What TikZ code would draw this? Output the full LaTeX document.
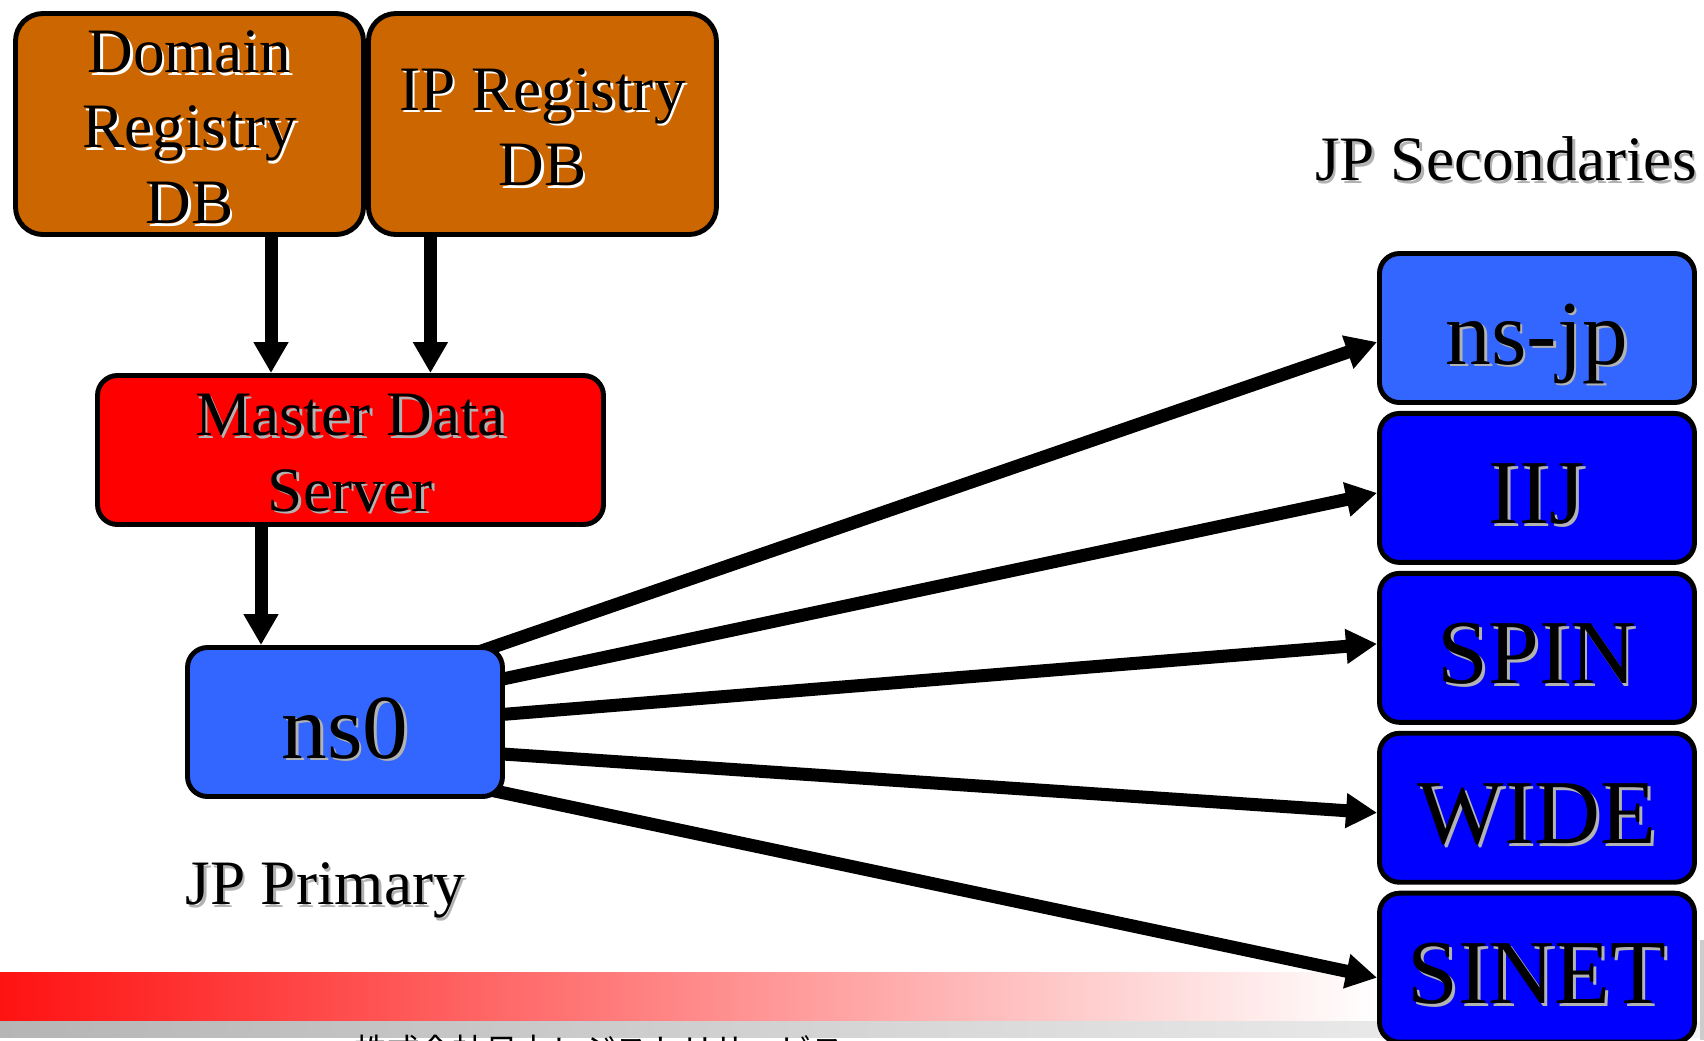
\documentclass[tikz,border=0pt]{standalone}
\usepackage{fontspec}
\setmainfont{Liberation Serif}
\newfontfamily\jpfont{Noto Sans CJK JP}
\usepackage{tikz}
\usetikzlibrary{positioning, arrows.meta, calc, backgrounds}
\definecolor{dbbrown}{RGB}{204,102,0}
\definecolor{nsblue}{RGB}{51,102,255}
\definecolor{secblue}{RGB}{0,0,255}
\definecolor{shadegray}{RGB}{178,178,178}
\newcommand{\shtxt}[2]{\leavevmode\raisebox{-2.5pt}[\height][\depth]{\rlap{\hspace{1.5pt}\raisebox{-1.5pt}{\color{#1}#2}}#2}}
\tikzset{
>={Triangle[length=0.62cm, width=0.66cm]}, % big filled arrow heads
flow/.style={->, line width=0.26cm}, % thick data flow arrows
box/.style={draw, line width=2.8pt, inner sep=0pt, align=center, font=\fontsize{36}{43}\selectfont}, % common look of every box
dbbox/.style={box, fill=dbbrown, rounded corners=0.55cm, minimum width=6.96cm, minimum height=4.42cm}, % registry databases
masterbox/.style={box, fill=red, rounded corners=0.4cm, minimum width=10.12cm, minimum height=2.98cm}, % master server
nsbox/.style={box, fill=nsblue, rounded corners=0.4cm, minimum width=6.3cm, minimum height=2.98cm, font=\fontsize{52}{60}\selectfont, text height=36pt, text depth=0pt}, % name servers
secbox/.style={nsbox, fill=secblue}, % secondaries in plain blue
lbl/.style={inner sep=0pt, font=\fontsize{36}{43}\selectfont}, % free labels
}

\begin{document}
\begin{tikzpicture}
            \useasboundingbox (0,0) rectangle (34.08,-20.8);
            \node[dbbox] (domdb) at (3.79,-2.48) {\shtxt{white}{Domain}\\\shtxt{white}{Registry}\\\shtxt{white}{DB}};
            \node[dbbox, right=0pt of domdb] (ipdb) {\shtxt{white}{IP Registry}\\\shtxt{white}{DB}};
            \node[masterbox] (master) at (7.01,-9) {\shtxt{shadegray}{Master Data}\\\shtxt{shadegray}{Server}};
            \node[nsbox] (ns0) at (6.9,-14.44) {\shtxt{shadegray}{ns0}};
            \node[nsbox] (nsjp) at (30.74,-6.56) {\shtxt{shadegray}{ns-jp}};
            \node[secbox, below=0.12cm of nsjp] (iij) {\shtxt{shadegray}{IIJ}};
            \node[secbox, below=0.12cm of iij] (spin) {\shtxt{shadegray}{SPIN}};
            \node[secbox, below=0.12cm of spin] (wide) {\shtxt{shadegray}{WIDE}};
            \node[secbox, below=0.12cm of wide] (sinet) {\shtxt{shadegray}{SINET}};
            \node[lbl, anchor=base east] (seclbl) at ($(nsjp.north east)+(0,1.5)$) {\shtxt{shadegray}{JP Secondaries}};
            \node[lbl, anchor=base west] (prilbl) at ($(ns0.south west)+(0,-2.03)$) {\shtxt{shadegray}{JP Primary}};
            \node[anchor=north west, inner sep=0pt, font=\jpfont\fontsize{18.6}{20}\selectfont] (jprs) at (7.08,-20.7) {株式会社日本レジストリサービス};
            \draw[flow] ([xshift=1.63cm]domdb.south) -- ([xshift=1.63cm]domdb.south |- master.north);
            \draw[flow] ([xshift=-2.24cm]ipdb.south) -- ([xshift=-2.24cm]ipdb.south |- master.north);
            \draw[flow] ([xshift=-1.79cm]master.south) -- ([xshift=-1.79cm]master.south |- ns0.north);
            \coordinate (hub) at ($(ns0.center)+(-2.2,-0.28)$);
            \begin{scope}[on background layer]
                \shade[left color=red!93, right color=white] (0,-19.44) rectangle (27.5,-20.42);
                \shade[left color=black!29, right color=black!4] (0,-20.42) rectangle (34.08,-20.74);
                \fill[black!20] (34,-18.8) rectangle (34.08,-20.8);
                \draw[flow] (hub) -- ([yshift=-0.28cm]nsjp.west);
                \draw[flow] (hub) -- ([yshift=-0.1cm]iij.west);
                \draw[flow] (hub) -- ([yshift=0.08cm]spin.west);
                \draw[flow] (hub) -- ([yshift=-0.1cm]wide.west);
                \draw[flow] (hub) -- ([yshift=-0.2cm]sinet.west);
            \end{scope}
\end{tikzpicture}
\end{document}
